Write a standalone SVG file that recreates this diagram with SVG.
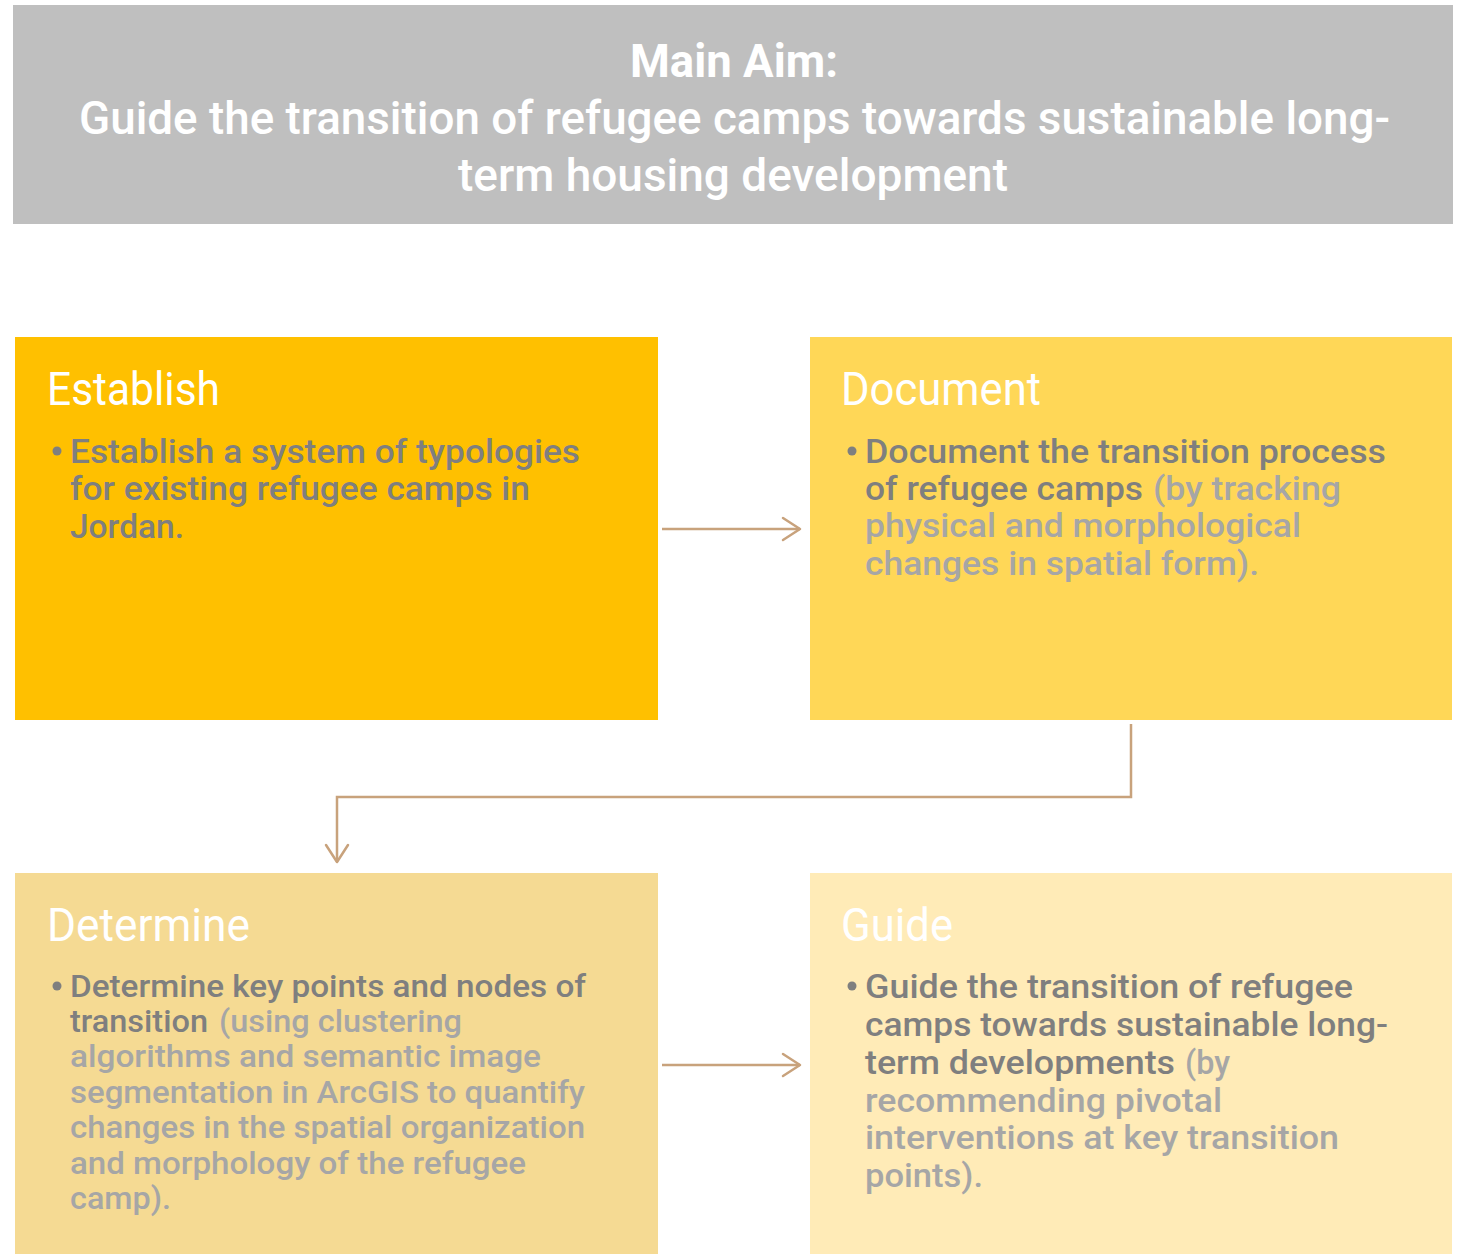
<svg xmlns="http://www.w3.org/2000/svg" width="1466" height="1254" viewBox="0 0 1466 1254">
  <defs>
    <style>
      text { font-family: Roboto, "Liberation Sans", sans-serif; }
      .aim { fill: #FFFFFF; font-size: 46px; font-weight: 500; }
      .aim-head { font-weight: 700; }
      .title { fill: #FFFFFF; font-size: 46px; font-weight: 400; }
      .body { font-size: 34px; font-weight: 500; }
      .tight { font-size: 32px; }
      .dark { fill: #7F7F7F; }
      .light { fill: #A6A6A6; }
      .bullet { fill: #7F7F7F; }
      .link { fill: none; stroke: #C8A27C; stroke-width: 2.5; }
    </style>
    <marker id="arrow-open" markerUnits="userSpaceOnUse" markerWidth="22" markerHeight="26" refX="19" refY="13" orient="auto">
      <path d="M2,2 L19,13 L2,24" fill="none" stroke="#C8A27C" stroke-width="2.5" stroke-linecap="round" stroke-linejoin="round"/>
    </marker>
  </defs>

  <rect width="1466" height="1254" fill="#FFFFFF"/>

  <!-- Main aim banner -->
  <g id="main-aim">
    <rect x="13" y="5" width="1440" height="219" fill="#BFBFBF"/>
    <text class="aim aim-head" x="630" y="77" textLength="208" lengthAdjust="spacingAndGlyphs">Main Aim:</text>
    <text class="aim" x="79" y="134" textLength="1311" lengthAdjust="spacingAndGlyphs">Guide the transition of refugee camps towards sustainable long-</text>
    <text class="aim" x="458" y="191" textLength="550" lengthAdjust="spacingAndGlyphs">term housing development</text>
  </g>

  <!-- Establish -->
  <g id="establish">
    <rect x="15" y="337" width="643" height="383" fill="#FFC000"/>
    <text class="title" x="47" y="405" textLength="173" lengthAdjust="spacingAndGlyphs">Establish</text>
    <circle class="bullet" cx="57" cy="451" r="4.5"/>
    <text class="body dark" x="70" y="463" textLength="510" lengthAdjust="spacingAndGlyphs">Establish a system of typologies</text>
    <text class="body dark" x="70" y="500" textLength="460" lengthAdjust="spacingAndGlyphs">for existing refugee camps in</text>
    <text class="body dark" x="70" y="538" textLength="114" lengthAdjust="spacingAndGlyphs">Jordan.</text>
  </g>

  <!-- Document -->
  <g id="document">
    <rect x="810" y="337" width="642" height="383" fill="#FFD757"/>
    <text class="title" x="841" y="405" textLength="200" lengthAdjust="spacingAndGlyphs">Document</text>
    <circle class="bullet" cx="852" cy="451" r="4.5"/>
    <text class="body dark" x="865" y="463" textLength="521" lengthAdjust="spacingAndGlyphs">Document the transition process</text>
    <text class="body dark" x="865" y="500" textLength="278" lengthAdjust="spacingAndGlyphs">of refugee camps</text>
    <text class="body light" x="1153" y="500" textLength="188" lengthAdjust="spacingAndGlyphs">(by tracking</text>
    <text class="body light" x="865" y="537" textLength="436" lengthAdjust="spacingAndGlyphs">physical and morphological</text>
    <text class="body light" x="865" y="575" textLength="394" lengthAdjust="spacingAndGlyphs">changes in spatial form).</text>
  </g>

  <!-- Determine -->
  <g id="determine">
    <rect x="15" y="873" width="643" height="381" fill="#F5DA93"/>
    <text class="title" x="47" y="941" textLength="203" lengthAdjust="spacingAndGlyphs">Determine</text>
    <circle class="bullet" cx="57" cy="986" r="4.5"/>
    <text class="body tight dark" x="70" y="997" textLength="516" lengthAdjust="spacingAndGlyphs">Determine key points and nodes of</text>
    <text class="body tight dark" x="70" y="1032" textLength="138" lengthAdjust="spacingAndGlyphs">transition</text>
    <text class="body tight light" x="219" y="1032" textLength="243" lengthAdjust="spacingAndGlyphs">(using clustering</text>
    <text class="body tight light" x="70" y="1067" textLength="471" lengthAdjust="spacingAndGlyphs">algorithms and semantic image</text>
    <text class="body tight light" x="70" y="1103" textLength="515" lengthAdjust="spacingAndGlyphs">segmentation in ArcGIS to quantify</text>
    <text class="body tight light" x="70" y="1138" textLength="515" lengthAdjust="spacingAndGlyphs">changes in the spatial organization</text>
    <text class="body tight light" x="70" y="1174" textLength="456" lengthAdjust="spacingAndGlyphs">and morphology of the refugee</text>
    <text class="body tight light" x="70" y="1209" textLength="101" lengthAdjust="spacingAndGlyphs">camp).</text>
  </g>

  <!-- Guide -->
  <g id="guide">
    <rect x="810" y="873" width="642" height="381" fill="#FFEBB7"/>
    <text class="title" x="841" y="941" textLength="112" lengthAdjust="spacingAndGlyphs">Guide</text>
    <circle class="bullet" cx="852" cy="986" r="4.5"/>
    <text class="body dark" x="865" y="998" textLength="488" lengthAdjust="spacingAndGlyphs">Guide the transition of refugee</text>
    <text class="body dark" x="865" y="1036" textLength="523" lengthAdjust="spacingAndGlyphs">camps towards sustainable long-</text>
    <text class="body dark" x="865" y="1074" textLength="310" lengthAdjust="spacingAndGlyphs">term developments</text>
    <text class="body light" x="1185" y="1074" textLength="45" lengthAdjust="spacingAndGlyphs">(by</text>
    <text class="body light" x="865" y="1112" textLength="357" lengthAdjust="spacingAndGlyphs">recommending pivotal</text>
    <text class="body light" x="865" y="1149" textLength="474" lengthAdjust="spacingAndGlyphs">interventions at key transition</text>
    <text class="body light" x="865" y="1187" textLength="118" lengthAdjust="spacingAndGlyphs">points).</text>
  </g>

  <!-- Connectors -->
  <g id="connectors">
    <path class="link" d="M662,529 H800" marker-end="url(#arrow-open)"/>
    <path class="link" d="M1131,724 V797 H337 V862" marker-end="url(#arrow-open)"/>
    <path class="link" d="M662,1065 H800" marker-end="url(#arrow-open)"/>
  </g>
</svg>
